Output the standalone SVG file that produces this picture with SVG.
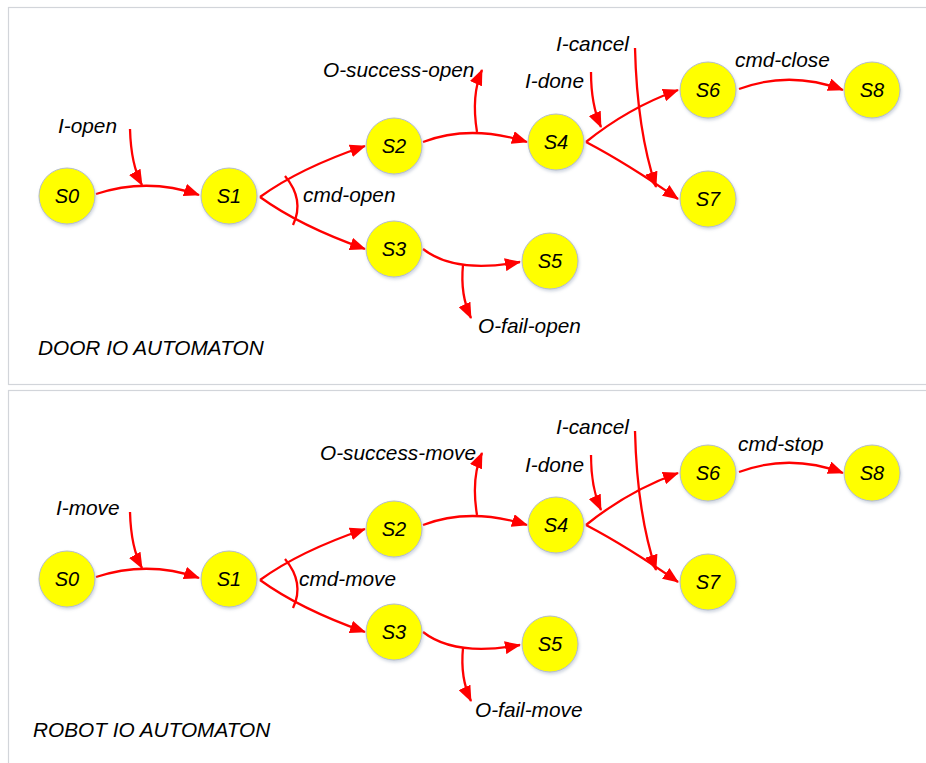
<svg xmlns="http://www.w3.org/2000/svg" width="926" height="763" viewBox="0 0 926 763">
<defs>
<marker id="arr" markerUnits="userSpaceOnUse" markerWidth="16" markerHeight="13" refX="15" refY="6.5" orient="auto">
<path d="M0,0 L16,6.5 L0,13 z" fill="#ff0000"/>
</marker>
<filter id="sh" x="-30%" y="-30%" width="160%" height="160%">
<feDropShadow dx="1" dy="2" stdDeviation="1.5" flood-color="#9aa8c0" flood-opacity="0.45"/>
</filter>
</defs>
<style>
.panel{fill:#ffffff;stroke:#d2d5da;stroke-width:1.2}
.node circle{fill:#ffff00;stroke:#b4bccb;stroke-width:1;filter:url(#sh)}
.node text{font-family:"Liberation Sans",Arial,sans-serif;font-style:italic;font-size:20px;fill:#000;text-anchor:middle}
.lbl{font-family:"Liberation Sans",Arial,sans-serif;font-style:italic;font-size:20.8px;fill:#000}
.edge{fill:none;stroke:#ff0000;stroke-width:2.3}
.arrow{marker-end:url(#arr)}
</style>
<rect x="0" y="0" width="926" height="763" fill="#ffffff"/>
<rect class="panel" x="8.5" y="7.5" width="930" height="377"/>
<rect class="panel" x="8.5" y="390.5" width="930" height="380"/>

<!-- DOOR panel -->
<g id="door">
<g id="door-connectors">
<path class="edge arrow" d="M96,194 Q148,177 199,195"/>
<path class="edge arrow" d="M130,129 Q131,165 142,185"/>
<path class="edge arrow" d="M260,197 Q300,168 365,146"/>
<path class="edge arrow" d="M260,197 Q300,226 365,249"/>
<path class="edge" d="M285,176 Q305,200 293,225"/>
<path class="edge arrow" d="M423,142 Q470,124 527,142"/>
<path class="edge arrow" d="M477,132 Q471,95 482,70"/>
<path class="edge arrow" d="M423,249 Q455,274 520,262"/>
<path class="edge arrow" d="M463,265 Q460,295 471,318"/>
<path class="edge arrow" d="M586,142 Q628,108 678,90"/>
<path class="edge arrow" d="M586,142 Q628,164 678,199"/>
<path class="edge arrow" d="M591,72 Q591,105 601,127"/>
<path class="edge arrow" d="M635,48 Q637,130 656,187"/>
<path class="edge arrow" d="M739,89 Q790,70 843,90"/>
</g>
<g id="door-s0" class="node"><circle cx="67" cy="196" r="28"/><text x="67" y="203">S0</text></g>
<g id="door-s1" class="node"><circle cx="229" cy="196" r="28"/><text x="229" y="203">S1</text></g>
<g id="door-s2" class="node"><circle cx="394" cy="146" r="28"/><text x="394" y="153">S2</text></g>
<g id="door-s3" class="node"><circle cx="394" cy="249" r="28"/><text x="394" y="256">S3</text></g>
<g id="door-s4" class="node"><circle cx="556" cy="142" r="28"/><text x="556" y="149">S4</text></g>
<g id="door-s5" class="node"><circle cx="550" cy="261" r="28"/><text x="550" y="268">S5</text></g>
<g id="door-s6" class="node"><circle cx="708" cy="90" r="28"/><text x="708" y="97">S6</text></g>
<g id="door-s7" class="node"><circle cx="708" cy="199" r="28"/><text x="708" y="206">S7</text></g>
<g id="door-s8" class="node"><circle cx="872" cy="90" r="28"/><text x="872" y="97">S8</text></g>
<g id="door-labels">
<text class="lbl" x="58" y="133">I-open</text>
<text class="lbl" x="323" y="77">O-success-open</text>
<text class="lbl" x="303" y="202">cmd-open</text>
<text class="lbl" x="556" y="51">I-cancel</text>
<text class="lbl" x="525" y="88">I-done</text>
<text class="lbl" x="735" y="67">cmd-close</text>
<text class="lbl" x="478" y="333">O-fail-open</text>
<text class="lbl" x="38" y="355">DOOR IO AUTOMATON</text>
</g>
</g>

<!-- ROBOT panel -->
<g id="robot" transform="translate(0,383)">
<g id="robot-connectors">
<path class="edge arrow" d="M96,194 Q148,177 199,195"/>
<path class="edge arrow" d="M130,129 Q131,165 142,185"/>
<path class="edge arrow" d="M260,197 Q300,168 365,146"/>
<path class="edge arrow" d="M260,197 Q300,226 365,249"/>
<path class="edge" d="M285,176 Q305,200 293,225"/>
<path class="edge arrow" d="M423,142 Q470,124 527,142"/>
<path class="edge arrow" d="M477,132 Q471,95 482,70"/>
<path class="edge arrow" d="M423,249 Q455,274 520,262"/>
<path class="edge arrow" d="M463,265 Q460,295 471,318"/>
<path class="edge arrow" d="M586,142 Q628,108 678,90"/>
<path class="edge arrow" d="M586,142 Q628,164 678,199"/>
<path class="edge arrow" d="M591,72 Q591,105 601,127"/>
<path class="edge arrow" d="M635,48 Q637,130 656,187"/>
<path class="edge arrow" d="M739,89 Q790,70 843,90"/>
</g>
<g id="robot-s0" class="node"><circle cx="67" cy="196" r="28"/><text x="67" y="203">S0</text></g>
<g id="robot-s1" class="node"><circle cx="229" cy="196" r="28"/><text x="229" y="203">S1</text></g>
<g id="robot-s2" class="node"><circle cx="394" cy="146" r="28"/><text x="394" y="153">S2</text></g>
<g id="robot-s3" class="node"><circle cx="394" cy="249" r="28"/><text x="394" y="256">S3</text></g>
<g id="robot-s4" class="node"><circle cx="556" cy="142" r="28"/><text x="556" y="149">S4</text></g>
<g id="robot-s5" class="node"><circle cx="550" cy="261" r="28"/><text x="550" y="268">S5</text></g>
<g id="robot-s6" class="node"><circle cx="708" cy="90" r="28"/><text x="708" y="97">S6</text></g>
<g id="robot-s7" class="node"><circle cx="708" cy="199" r="28"/><text x="708" y="206">S7</text></g>
<g id="robot-s8" class="node"><circle cx="872" cy="90" r="28"/><text x="872" y="97">S8</text></g>
<g id="robot-labels">
<text class="lbl" x="56" y="132">I-move</text>
<text class="lbl" x="320" y="77">O-success-move</text>
<text class="lbl" x="299" y="203">cmd-move</text>
<text class="lbl" x="556" y="51">I-cancel</text>
<text class="lbl" x="525" y="89">I-done</text>
<text class="lbl" x="738" y="68">cmd-stop</text>
<text class="lbl" x="475" y="334">O-fail-move</text>
<text class="lbl" x="33" y="354">ROBOT IO AUTOMATON</text>
</g>
</g>
</svg>
